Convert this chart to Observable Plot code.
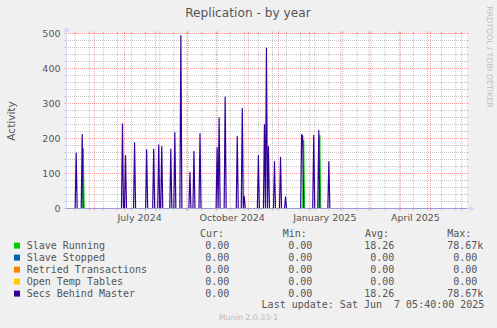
<!DOCTYPE html>
<html><head><meta charset="utf-8">
<script src="https://cdn.jsdelivr.net/npm/d3@7"></script>
<script src="https://cdn.jsdelivr.net/npm/@observablehq/plot@0.6"></script>
<style>
html,body{margin:0;padding:0;background:#f0f0f0;}
#chart{width:497px;height:328px;overflow:hidden;position:relative;}
#chart svg{display:block;}
</style></head><body><div id="chart"></div>
<script>
// ---- texts ----
const title = "Replication - by year";
const yLabel = "Activity";
const watermark = "RRDTOOL / TOBI OETIKER";
const lastUpdate = "Last update: Sat Jun  7 05:40:00 2025";
const version = "Munin 2.0.33-1";

// ---- axes ----
const yTicks = [0, 100, 200, 300, 400, 500];
const xLabelDates = ["2024-07-16", "2024-10-16", "2025-01-16", "2025-04-16"];
const xLabels = ["July 2024", "October 2024", "January 2025", "April 2025"];

// ---- data (daily points; zero elsewhere) ----
const secsDates = ["2024-05-14","2024-05-20","2024-06-29","2024-07-02","2024-07-11","2024-07-23","2024-07-30",
  "2024-08-04","2024-08-07","2024-08-16","2024-08-20","2024-08-26","2024-09-04","2024-09-08","2024-09-14",
  "2024-10-01","2024-10-03","2024-10-09","2024-10-21","2024-10-26","2024-10-28","2024-11-11","2024-11-17",
  "2024-11-19","2024-11-21","2024-11-27","2024-12-03","2024-12-08","2024-12-24","2024-12-25","2025-01-05",
  "2025-01-10","2025-01-20"];
const secsBehindMaster = [158,211,242,151,188,168,170,182,177,170,217,494,103,163,214,174,259,318,206,286,34,
  151,240,458,177,134,146,33,211,207,209,223,134];
const runningDates = ["2024-05-21","2024-12-26","2025-01-11"];
const slaveRunning = [172,195,210];

// ---- legend ----
const seriesNames = ["Slave Running","Slave Stopped","Retried Transactions","Open Temp Tables","Secs Behind Master"];
const seriesColors = ["#00cc00","#0066b3","#ff8000","#ffcc00","#330099"];
const curVals = [0,0,0,0,0];
const minVals = [0,0,0,0,0];
const avgVals = [18.26,0,0,0,18.26];
const maxVals = [78670,0,0,0,78670];

const x0 = new Date("2024-05-04T09:00:00Z"), x1 = new Date("2025-06-05T18:00:00Z");
const DAY = 864e5;
function spikeSeries(dates, vals) {
  const m = new Map();
  dates.forEach((d, i) => m.set(+new Date(d + "T00:00:00Z"), vals[i]));
  const pts = new Map([[+x0, 0], [+x1, 0]]);
  for (const t of m.keys()) for (const o of [-DAY, DAY]) if (!m.has(t + o)) pts.set(t + o, 0);
  for (const [t, v] of m) pts.set(t, v);
  return [...pts].sort((a, b) => a[0] - b[0]).map(([t, v]) => ({date: new Date(t), value: v}));
}
const purple = spikeSeries(secsDates, secsBehindMaster);
const green = spikeSeries(runningDates, slaveRunning);

const majorY = yTicks.filter(d => d > 0);
const minorY = d3.range(20, 500, 20).filter(d => d % 100 !== 0);
const monthStarts = d3.utcMonth.range(d3.utcMonth.ceil(x0), x1);
const ref = new Date("2024-05-13T00:00:00Z");
const biweekly = d3.utcMonday.range(x0, x1).filter(d => Math.round((d - ref) / DAY / 7) % 2 === 0);

const MAJ = {stroke: "#ff0000", strokeOpacity: 0.38, strokeDasharray: "1,1"};
const MIN = {stroke: "#8c8c8c", strokeOpacity: 0.5, strokeDasharray: "1,1"};

const chart = Plot.plot({
  width: 497, height: 328,
  marginTop: 33, marginBottom: 120, marginLeft: 66, marginRight: 31,
  style: {background: "#f0f0f0", fontFamily: "'DejaVu Sans', sans-serif", fontSize: "9.5px", color: "#555", overflow: "visible"},
  x: {type: "utc", domain: [x0, x1], axis: null},
  y: {domain: [0, 500], axis: null},
  marks: [
    Plot.frame({fill: "#ffffff", stroke: "none"}),
    Plot.ruleY(minorY, MIN),
    Plot.ruleX(biweekly, MIN),
    Plot.ruleY(majorY, MAJ),
    Plot.ruleX(monthStarts, MAJ),
    Plot.line(green, {x: "date", y: "value", stroke: "#00cc00", strokeWidth: 1}),
    Plot.line(purple, {x: "date", y: "value", stroke: "#330099", strokeWidth: 1.2}),
    Plot.text(yTicks, {y: d => d, text: d => String(d), frameAnchor: "left", dx: -6, textAnchor: "end", fill: "#555"}),
    Plot.text(xLabelDates.map((d, i) => ({date: new Date(d + "T00:00:00Z"), label: xLabels[i]})),
      {x: "date", text: "label", frameAnchor: "bottom", lineAnchor: "bottom", dy: 12.5, fill: "#555"})
  ]
});
document.getElementById("chart").appendChild(chart);

const svg = d3.select(chart);
const X = chart.scale("x"), Y = chart.scale("y");
const xl = X.apply(x0) + 0.5, xr = X.apply(x1) + 0.5, yb = Y.apply(0) + 0.5, yt = Y.apply(500) + 0.5;
const g = svg.append("g");
// small solid ticks outside the canvas
yTicks.concat(minorY).forEach(v => {
  const c = v % 100 === 0 ? "rgba(255,0,0,0.38)" : "rgba(140,140,140,0.5)";
  const yy = Y.apply(v) + 0.5;
  g.append("line").attr("x1", xl - 2).attr("x2", xl).attr("y1", yy).attr("y2", yy).attr("stroke", c);
  g.append("line").attr("x1", xr).attr("x2", xr + 2).attr("y1", yy).attr("y2", yy).attr("stroke", c);
});
monthStarts.concat(biweekly).forEach((d, i) => {
  const c = i < monthStarts.length ? "rgba(255,0,0,0.38)" : "rgba(140,140,140,0.5)";
  const xx = X.apply(d) + 0.5;
  g.append("line").attr("x1", xx).attr("x2", xx).attr("y1", yt - 2).attr("y2", yt).attr("stroke", c);
  g.append("line").attr("x1", xx).attr("x2", xx).attr("y1", yb).attr("y2", yb + 2).attr("stroke", c);
});
// axes + arrows
const AX = "#cfd6f8";
g.append("line").attr("x1", xl).attr("x2", xl).attr("y1", yb).attr("y2", yt - 3).attr("stroke", AX);
g.append("line").attr("x1", xl - 1).attr("x2", xr + 3).attr("y1", yb).attr("y2", yb).attr("stroke", AX).attr("stroke-opacity", 0.7);
g.append("polygon").attr("points", `${xl - 3},${yt - 2} ${xl + 3},${yt - 2} ${xl},${yt - 7}`).attr("fill", AX);
g.append("polygon").attr("points", `${xr + 3},${yb - 3} ${xr + 3},${yb + 3} ${xr + 8},${yb}`).attr("fill", AX);

// titles
svg.append("text").attr("x", 248).attr("y", 16.8).attr("text-anchor", "middle")
  .style("font", "12.2px 'DejaVu Sans'").attr("fill", "#555").text(title);
svg.append("text").attr("transform", `translate(11,${(yb + yt) / 2}) rotate(-90)`).attr("text-anchor", "middle")
  .attr("dominant-baseline", "central").style("font", "10.5px 'DejaVu Sans'").attr("fill", "#555").text(yLabel);
svg.append("text").attr("transform", "translate(489,57) rotate(90)").attr("text-anchor", "middle")
  .attr("dominant-baseline", "central").style("font", "7.9px 'DejaVu Sans'").attr("fill", "#bdbdbd").text(watermark);

// legend
const MONO = "10px 'DejaVu Sans Mono'";
const txt = (x, y, t, anchor = "start") => svg.append("text").attr("x", x).attr("y", y)
  .attr("text-anchor", anchor).style("font", MONO).style("white-space", "pre").attr("fill", "#555").text(t);
const hdr = [["Cur:", 200], ["Min:", 282.7], ["Avg:", 365], ["Max:", 447.3]];
hdr.forEach(([t, x]) => txt(x, 236.5, t));
const numRight = [229.3, 312.3, 394.3, 477.3];
function fmt(v) { return v >= 1000 ? [(v / 1000).toFixed(2), "k"] : [v.toFixed(2), ""]; }
seriesNames.forEach((name, i) => {
  const by = 248.6 + 12 * i;
  svg.append("rect").attr("x", 14).attr("y", by - 6).attr("width", 6).attr("height", 6).attr("fill", seriesColors[i]);
  txt(26.7, by, name);
  [curVals[i], minVals[i], avgVals[i], maxVals[i]].forEach((v, j) => {
    const [n, s] = fmt(v);
    txt(numRight[j], by, n, "end");
    if (s) txt(numRight[j], by, s, "start");
  });
});
txt(261.6, 308.3, lastUpdate);
svg.append("text").attr("x", 248.5).attr("y", 320).attr("text-anchor", "middle").style("font", "7.8px 'DejaVu Sans'").attr("fill", "#bbb").text(version);
</script></body></html>
